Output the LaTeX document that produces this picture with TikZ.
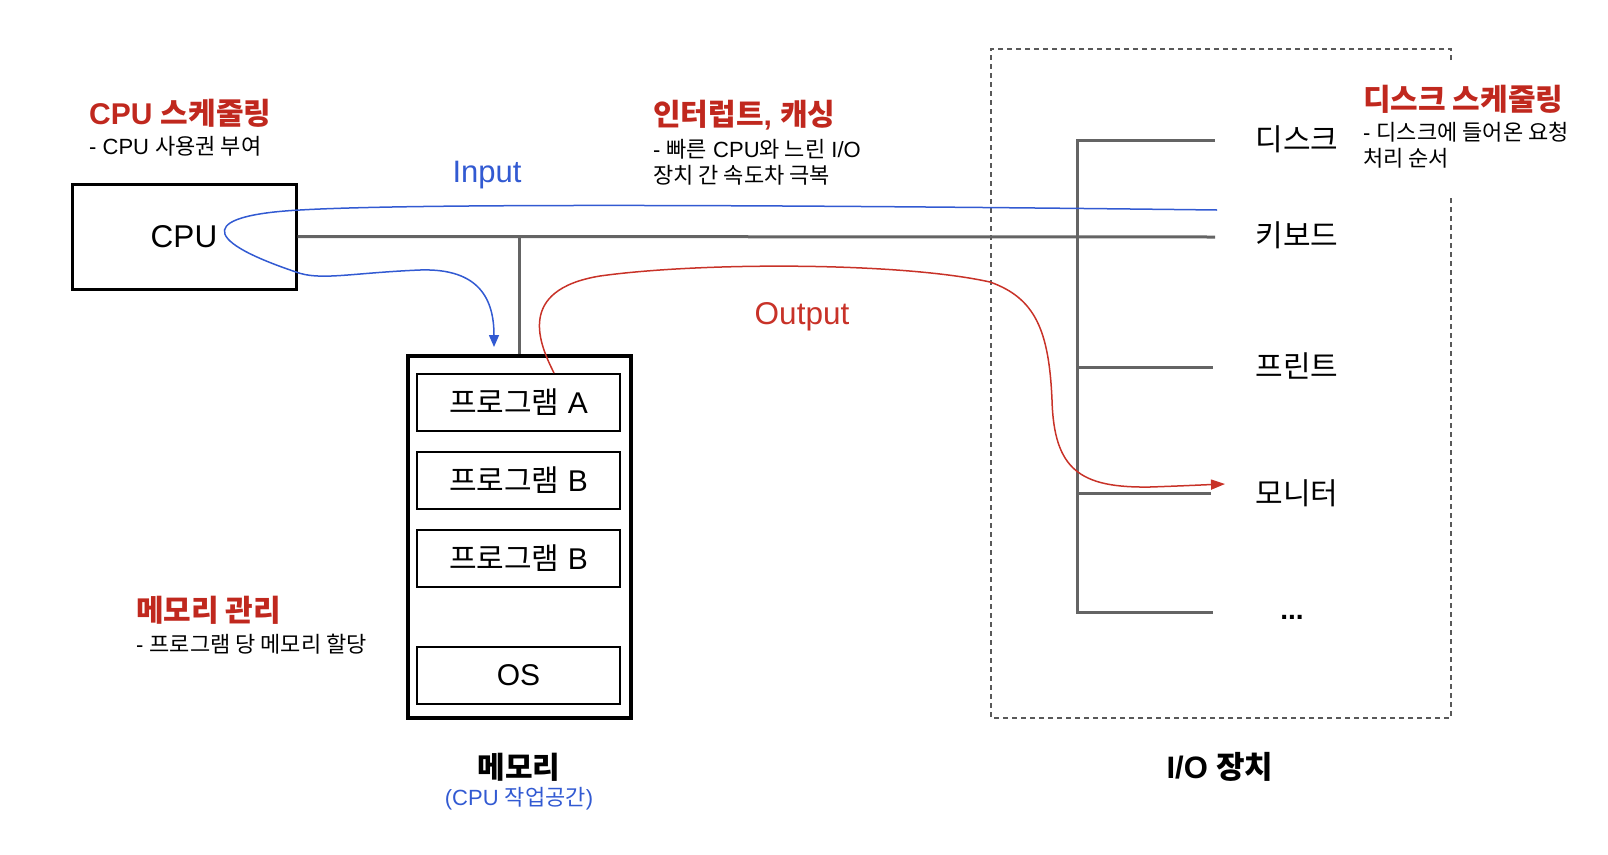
\documentclass[tikz,border=0pt]{standalone}
\usepackage{fontspec}
\setmainfont{Liberation Sans}
\newfontfamily\kr{Noto Sans CJK KR}
\usepackage{xcolor}
\usetikzlibrary{arrows.meta}
\definecolor{titlered}{RGB}{192,40,30}
\definecolor{outred}{RGB}{200,50,40}
\definecolor{inblue}{RGB}{50,90,210}
\definecolor{busgray}{RGB}{100,100,100}
\tikzset{
	bus/.style={draw=busgray, line width=3pt},
	progbox/.style={draw, line width=1.4pt, minimum width=203pt, minimum height=57pt, inner sep=0pt, font=\fontsize{30}{32}\selectfont},
	title/.style={anchor=west, inner sep=0pt, text=titlered, font=\fontsize{30}{32}\selectfont\bfseries},
	note/.style={anchor=west, inner sep=0pt, align=left, font=\fontsize{22}{26}\selectfont},
	devlabel/.style={inner sep=0pt, font=\fontsize{30}{32}\selectfont\kr},
	inflow/.style={draw=inblue, line width=1.5pt, -{Triangle[length=12pt,width=10pt]}},
	outflow/.style={draw=outred, line width=1.5pt, -{Triangle[length=14pt,width=10pt]}}
}

\begin{document}
\begin{tikzpicture}[x=1pt,y=-1pt]
	\useasboundingbox (0,0) rectangle (1608,854);
	% I/O dashed frame
	\draw[dash pattern=on 5pt off 4pt, draw=black!65, line width=1.4pt] (1451,60) -- (1451,49) -- (991,49) -- (991,718) -- (1451,718) -- (1451,195);
	% CPU and memory
	\node[draw, line width=3pt, minimum width=224pt, minimum height=105pt, inner sep=0pt, font=\fontsize{31.5}{34}\selectfont] (cpu) at (184,236.5) {CPU};
	\node[draw, line width=3.5pt, minimum width=223pt, minimum height=362pt, inner sep=0pt] (mem) at (519.5,537) {};
	\node[progbox] (progA) at (518.5,402.5) {{\kr 프로그램} A};
	\node[progbox] (progB) at (518.5,480.5) {{\kr 프로그램} B};
	\node[progbox] (progC) at (518.5,558.5) {{\kr 프로그램} B};
	\node[progbox] (os) at (518.5,675.5) {OS};
	\node[font=\fontsize{30}{32}\selectfont\bfseries\kr] (memlabel) at (519,767) {메모리};
	\node[text=inblue, font=\fontsize{22}{24}\selectfont] (memnote) at (519,799) {(CPU {\kr 작업공간})};
	% devices
	\coordinate (disk-end) at (1215,140);
	\coordinate (kbd-end) at (1215,237);
	\coordinate (prn-end) at (1213,367);
	\coordinate (mon-end) at (1211,493);
	\coordinate (etc-end) at (1213,612);
	\coordinate (iobus) at (1077,140);
	\node[devlabel] (disk) at (1297,139) {디스크};
	\node[devlabel] (kbd) at (1297,235) {키보드};
	\node[devlabel] (prn) at (1297,366) {프린트};
	\node[devlabel] (mon) at (1297,493) {모니터};
	\node[inner sep=0pt, font=\fontsize{28}{30}\selectfont\bfseries] (etc) at (1292,617) {...};
	\node[font=\fontsize{31}{34}\selectfont\bfseries] (iolabel) at (1220,767) {I/O {\kr 장치}};
	% buses
	\draw[bus] (cpu.east) -- (kbd-end);
	\draw[bus] (mem.north) -- (mem.north |- cpu.east);
	\draw[bus, line join=miter] (disk-end) -- (iobus) -- (iobus |- etc-end) -- (etc-end);
	\draw[bus] (iobus |- prn-end) -- (prn-end);
	\draw[bus] (iobus |- mon-end) -- (mon-end);
	% input / output flows
	\coordinate (in-start) at (1217,210);
	\coordinate (in-end) at (494,347);
	\draw[inflow] (in-start) .. controls (800,205) and (420,203) .. (300,210) .. controls (205,215) and (195,238) .. (296,272) .. controls (320,281) and (350,273) .. (420,270) .. controls (480,268) and (494,300) .. (in-end);
	\coordinate (out-start) at (554,373);
	\coordinate (out-end) at (1225,484);
	\draw[outflow] (out-start) .. controls (540,345) and (515,290) .. (600,276) .. controls (700,262) and (900,262) .. (990,282) .. controls (1035,298) and (1049,330) .. (1052,400) .. controls (1054,470) and (1080,488) .. (1150,487) .. controls (1180,486) and (1200,485) .. (out-end);
	\node[text=inblue, font=\fontsize{31}{34}\selectfont] (inlabel) at (487,175) {Input};
	\node[text=outred, font=\fontsize{31.5}{34}\selectfont] (outlabel) at (802,317) {Output};
	% notes
	\node[title] (cputitle) at (89,113) {CPU {\kr 스케줄링}};
	\node[note] (cpunote) at (89,146) {- CPU {\kr 사용권 부여}};
	\node[title] (inttitle) at (653,115) {{\kr 인터럽트}, {\kr 캐싱}};
	\node[note] (intnote) at (653,162) {- {\kr 빠른} CPU{\kr 와 느린} I/O\\{\kr 장치 간 속도차 극복}};
	\node[title] (disktitle) at (1363,99) {\kr 디스크 스케줄링};
	\node[note] (disknote) at (1363,145.5) {- {\kr 디스크에 들어온 요청}\\{\kr 처리 순서}};
	\node[title] (memtitle) at (136,610) {\kr 메모리 관리};
	\node[note] (memnote2) at (136,644) {- {\kr 프로그램 당 메모리 할당}};
\end{tikzpicture}
\end{document}
